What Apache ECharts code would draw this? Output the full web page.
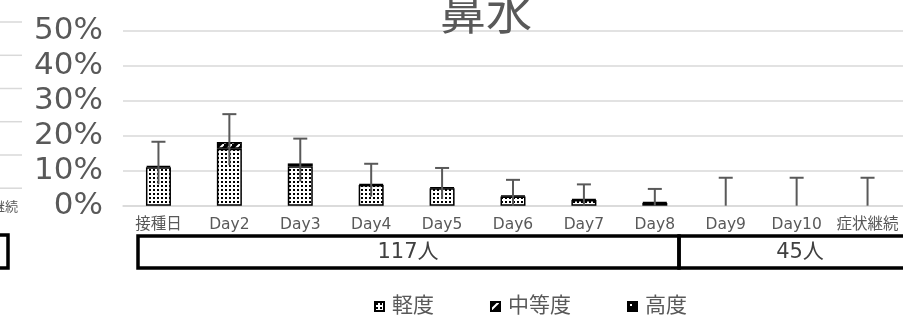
<!DOCTYPE html>
<html>
<head>
<meta charset="utf-8">
<script src="https://cdn.jsdelivr.net/npm/echarts@6/dist/echarts.min.js"></script>
<style>
  html, body { margin: 0; padding: 0; background: #fff; }
  #chart { width: 903px; height: 318px; }
</style>
</head>
<body>
<div id="chart"></div>
<script>
var categories = ['接種日', 'Day2', 'Day3', 'Day4', 'Day5', 'Day6', 'Day7', 'Day8', 'Day9', 'Day10', '症状継続'];
var mild     = [11.0, 16.3, 11.3, 5.9, 5.0, 2.6, 1.6, 0.8, 0, 0, 0];
var moderate = [0.4, 1.9, 0.8, 0.3, 0.3, 0.3, 0.3, 0.3, 0, 0, 0];
var severe   = [0, 0, 0, 0, 0, 0, 0, 0, 0, 0, 0];
var errLow   = [6.1, 11.6, 6.9, 2.6, 1.9, 0, 0, 0, 0, 0, 0];
var errHigh  = [18.3, 26.2, 19.2, 12.0, 10.8, 7.4, 6.1, 4.8, 8.0, 8.0, 8.0];
var yTicks   = [0, 10, 20, 30, 40, 50];
var groupLabels = ['117人', '45人'];

var FONT = 'DejaVu Sans, Noto Sans CJK JP, sans-serif';
var GRAY = '#595959';

// 塗りつぶしパターン
function makePattern(size, draw) {
    var c = document.createElement('canvas');
    c.width = size; c.height = size;
    var ctx = c.getContext('2d');
    draw(ctx);
    return { image: c, repeat: 'repeat' };
}
var mildPattern = makePattern(4, function(ctx){
    ctx.fillStyle = '#fff'; ctx.fillRect(0, 0, 4, 4);
    ctx.fillStyle = '#000'; ctx.fillRect(1, 1, 2, 2);
});
var moderatePattern = makePattern(8, function(ctx){
    ctx.fillStyle = '#000'; ctx.fillRect(0, 0, 8, 8);
    ctx.strokeStyle = '#fff'; ctx.lineWidth = 2;
    ctx.beginPath(); ctx.moveTo(0, 8); ctx.lineTo(8, 0); ctx.stroke();
});
var severePattern = makePattern(6, function(ctx){
    ctx.fillStyle = '#000'; ctx.fillRect(0, 0, 6, 6);
    ctx.fillStyle = '#fff'; ctx.fillRect(2, 2, 2, 2);
});

// 0 は描かない
function noZero(arr) {
    return arr.map(function(v){ return v === 0 ? '-' : v; });
}

var errData = categories.map(function(c, i){ return [i, errLow[i], errHigh[i]]; });

// 左側に見切れている隣のグラフ
var leftGraphics = [];
[22, 55.3, 88.5, 121.7, 155, 188.2].forEach(function(y){
    leftGraphics.push({ type: 'line', shape: { x1: 0, y1: y, x2: 22, y2: y },
        style: { stroke: '#d9d9d9', lineWidth: 1.5 }, silent: true });
});
leftGraphics.push({ type: 'text', x: 18, y: 208,
    style: { text: '症状継続', font: '13px ' + FONT, fill: GRAY, align: 'right', verticalAlign: 'middle' } });
leftGraphics.push({ type: 'rect', shape: { x: -60, y: 235, width: 68, height: 33 },
    style: { fill: 'none', stroke: '#000', lineWidth: 3.5 } });

var chart = echarts.init(document.getElementById('chart'));

var option = {
    animation: false,
    title: {
        text: '鼻水',
        left: 481,
        top: -11,
        textAlign: 'center',
        textStyle: { fontFamily: FONT, fontSize: 46, fontWeight: 'normal', color: GRAY }
    },
    legend: {
        data: ['軽度', '中等度', '高度'],
        left: 369,
        top: 291,
        icon: 'rect',
        itemWidth: 9,
        itemHeight: 9,
        itemGap: 56,
        textStyle: { fontFamily: FONT, fontSize: 21, color: GRAY, padding: [0, 0, 0, 3] }
    },
    grid: { left: 123, top: 31, width: 804, height: 174.7 },
    xAxis: {
        type: 'category',
        data: categories,
        axisLine: { lineStyle: { color: '#d9d9d9', width: 1.5 } },
        axisTick: { show: false },
        axisLabel: { interval: 0, fontFamily: FONT, fontSize: 15.5, color: GRAY, margin: 12 }
    },
    yAxis: {
        type: 'value',
        min: yTicks[0],
        max: yTicks[yTicks.length - 1],
        interval: 10,
        axisLine: { show: false },
        axisTick: { show: false },
        splitLine: { lineStyle: { color: '#d9d9d9', width: 1.5 } },
        axisLabel: { fontFamily: FONT, fontSize: 31, color: GRAY, margin: 20, formatter: '{value}%' }
    },
    series: [
        { name: '軽度', type: 'bar', stack: 'all', data: noZero(mild), barWidth: 25,
          itemStyle: { color: mildPattern, borderColor: '#000', borderWidth: 1.5 } },
        { name: '中等度', type: 'bar', stack: 'all', data: noZero(moderate), barWidth: 25,
          itemStyle: { color: moderatePattern, borderColor: '#000', borderWidth: 1.5 } },
        { name: '高度', type: 'bar', stack: 'all', data: noZero(severe), barWidth: 25,
          itemStyle: { color: severePattern, borderColor: '#000', borderWidth: 1.5 } },
        {
            name: 'err', type: 'custom', data: errData, z: 10,
            encode: { x: 0, y: [1, 2] },
            renderItem: function(params, api){
                var lo = api.coord([api.value(0), api.value(1)]);
                var hi = api.coord([api.value(0), api.value(2)]);
                var style = { stroke: GRAY, lineWidth: 2, fill: 'none' };
                return {
                    type: 'group',
                    children: [
                        { type: 'line', shape: { x1: hi[0], y1: hi[1], x2: lo[0], y2: lo[1] }, style: style },
                        { type: 'line', shape: { x1: hi[0] - 7, y1: hi[1], x2: hi[0] + 7, y2: hi[1] }, style: style }
                    ]
                };
            }
        }
    ],
    graphic: leftGraphics.concat([
        { type: 'rect', shape: { x: 138, y: 236, width: 541, height: 32 },
          style: { fill: 'none', stroke: '#000', lineWidth: 3.5 } },
        { type: 'rect', shape: { x: 679, y: 236, width: 260, height: 32 },
          style: { fill: 'none', stroke: '#000', lineWidth: 3.5 } },
        { type: 'text', x: 408, y: 253,
          style: { text: groupLabels[0], font: '21px ' + FONT, fill: '#404040', align: 'center', verticalAlign: 'middle' } },
        { type: 'text', x: 800, y: 253,
          style: { text: groupLabels[1], font: '21px ' + FONT, fill: '#404040', align: 'center', verticalAlign: 'middle' } }
    ])
};

chart.setOption(option);
</script>
</body>
</html>
